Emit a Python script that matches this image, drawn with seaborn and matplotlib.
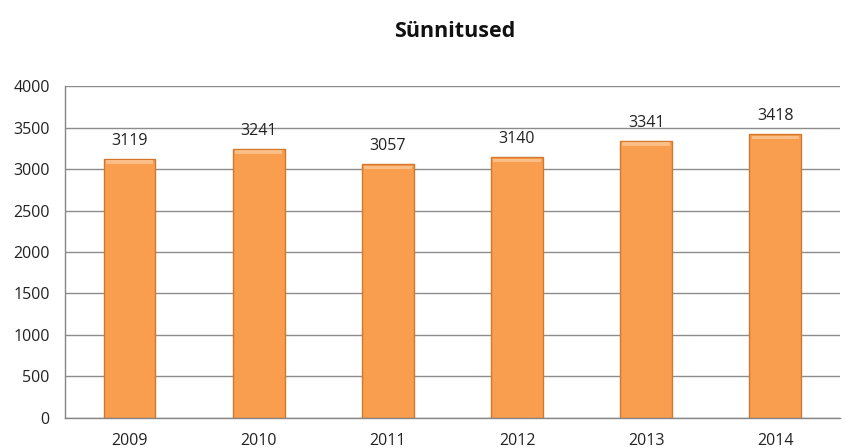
import matplotlib
matplotlib.use("Agg")
import matplotlib.pyplot as plt
import seaborn as sns
import pandas as pd
import numpy as np

years = ["2009", "2010", "2011", "2012", "2013", "2014"]
births = [3119, 3241, 3057, 3140, 3341, 3418]
yticks = [0, 500, 1000, 1500, 2000, 2500, 3000, 3500, 4000]

sns.set_theme(style="white")
plt.rcParams["font.family"] = ["Open Sans", "DejaVu Sans"]

df = pd.DataFrame({"year": years, "births": births})

fig = plt.figure(figsize=(8.46, 4.48), dpi=100)
ax = fig.add_axes([0.0768, 0.067, 0.916, 0.741])

sns.barplot(data=df, x="year", y="births", color="#F99E4E", width=0.4,
            edgecolor="#D4762C", linewidth=1.0, saturation=1, ax=ax)

# subtle highlight band on top of each bar
for p in ax.patches:
    x0, w, h = p.get_x(), p.get_width(), p.get_height()
    ax.add_patch(plt.Rectangle((x0 + w * 0.04, h - 60), w * 0.92, 45,
                               color="#FBBE86", lw=0, zorder=p.get_zorder() + 0.1))

for i, v in enumerate(births):
    ax.text(i, v + 120, str(v), ha="center", va="bottom", fontsize=11.5, color="#222222")

ax.set_ylim(0, 4000)
ax.set_yticks(yticks)
ax.set_yticklabels([str(t) for t in yticks], fontsize=11.5, color="#222222")
ax.set_xlim(-0.5, len(years) - 0.5)
ax.set_xticks(range(len(years)))
ax.set_xticklabels(years, fontsize=11.5, color="#222222")
ax.set_xticks(np.arange(-0.5, len(years), 1.0), minor=True)
ax.tick_params(axis="x", which="major", length=0, pad=11)
ax.tick_params(axis="x", which="minor", length=5, color="#868686", width=1, direction="out")
ax.tick_params(axis="y", length=5, color="#868686", width=1, direction="out", pad=6)
ax.set_xlabel("")
ax.set_ylabel("")

ax.yaxis.grid(True, color="#8C8C8C", linewidth=1)
ax.set_axisbelow(True)
for s in ["top", "right"]:
    ax.spines[s].set_visible(False)
for s in ["left", "bottom"]:
    ax.spines[s].set_color("#868686")
    ax.spines[s].set_linewidth(1)

fig.text(0.538, 0.93, "Sünnitused", ha="center", va="center",
         fontsize=15.5, fontweight="bold", color="#111111")

fig.savefig("out.png", dpi=100)
